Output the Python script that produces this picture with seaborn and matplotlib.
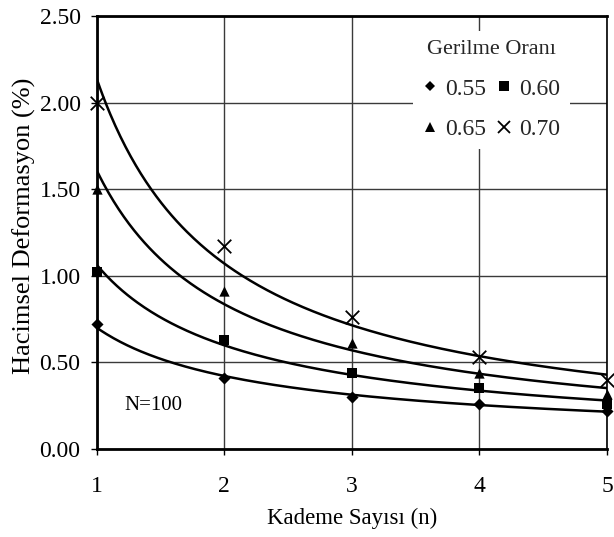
import numpy as np
import pandas as pd
import matplotlib
matplotlib.use("Agg")
import matplotlib.pyplot as plt
from matplotlib.lines import Line2D
import seaborn as sns

# Step count (n) and volumetric strain (%) for each stress ratio
kademe = [1, 2, 3, 4, 5]
oran_055 = [0.72, 0.41, 0.30, 0.26, 0.22]
oran_060 = [1.02, 0.63, 0.44, 0.35, 0.26]
oran_065 = [1.50, 0.91, 0.61, 0.44, 0.32]
oran_070 = [2.00, 1.17, 0.76, 0.53, 0.40]
oran_labels = ["0.55", "0.60", "0.65", "0.70"]
y_ticks = [0.00, 0.50, 1.00, 1.50, 2.00, 2.50]
x_ticks = [1, 2, 3, 4, 5]

series = [oran_055, oran_060, oran_065, oran_070]
marker_map = {"0.55": "D", "0.60": "s", "0.65": "^", "0.70": "x"}
size_map = {"0.55": 38, "0.60": 55, "0.65": 55, "0.70": 95}

df = pd.DataFrame({
    "n": np.tile(kademe, len(series)),
    "def": np.concatenate(series),
    "oran": np.repeat(oran_labels, len(kademe)),
})

# Power-law trendlines y = a * n^b fitted in log-log space
n_fine = np.linspace(1, 5, 300)
fit_rows = []
for lab, vals in zip(oran_labels, series):
    b, ln_a = np.polyfit(np.log(kademe), np.log(vals), 1)
    fit_rows.append(pd.DataFrame({"n": n_fine, "def": np.exp(ln_a) * n_fine ** b, "oran": lab}))
fit_df = pd.concat(fit_rows, ignore_index=True)

sns.set_theme(style="white")
plt.rcParams["font.family"] = ["Liberation Serif", "DejaVu Serif"]

fig = plt.figure(figsize=(6.14, 5.37), dpi=100)
ax = fig.add_axes([0.1572, 0.1639, 0.8314, 0.8063])

sns.lineplot(data=fit_df, x="n", y="def", units="oran", estimator=None,
             color="black", linewidth=1.8, ax=ax, legend=False, zorder=3)

for lab in oran_labels:
    sub = df[df["oran"] == lab]
    sns.scatterplot(data=sub, x="n", y="def", marker=marker_map[lab],
                    s=size_map[lab], color="black",
                    linewidth=1.3 if lab == "0.70" else 0,
                    ax=ax, legend=False, zorder=4, clip_on=False)

ax.set_xlim(1, 5)
ax.set_ylim(0, 2.5)
ax.set_xticks(x_ticks)
ax.set_yticks(y_ticks)
ax.set_xticklabels([str(v) for v in x_ticks])
ax.set_yticklabels([f"{v:.2f}" for v in y_ticks])
ax.grid(True, color="#3a3a3a", linewidth=1.0)
ax.set_axisbelow(True)

for side in ["left", "bottom", "top"]:
    ax.spines[side].set_color("black")
    ax.spines[side].set_linewidth(2.0)
ax.spines["right"].set_color("black")
ax.spines["right"].set_linewidth(1.2)
for sp in ax.spines.values():
    sp.set_zorder(5)

ax.tick_params(axis="both", direction="out", length=4.5, width=1.0, color="black",
               labelsize=17, labelcolor="black")
ax.tick_params(axis="y", pad=7, left=True)
ax.tick_params(axis="x", pad=15, bottom=True)

ax.set_xlabel("Kademe Sayısı (n)", fontsize=16.5, color="black")
ax.xaxis.set_label_coords(0.5, -0.135)
ax.set_ylabel("Hacimsel Deformasyon (%)", fontsize=19, color="black")
ax.yaxis.set_label_coords(-0.118, 0.515)

ax.text(1.22, 0.25, "N=100", fontsize=15, color="black", va="center", ha="left")

# Legend: two rows of two entries
handles = []
for lab in ["0.55", "0.65", "0.60", "0.70"]:
    m = marker_map[lab]
    ms = {"D": 5, "s": 6.5, "^": 6.5, "x": 9}[m]
    handles.append(Line2D([], [], linestyle="none", marker=m, color="black",
                          markersize=ms, markeredgewidth=1.3 if m == "x" else 0,
                          label=lab))
leg = ax.legend(handles=handles, ncol=2, title="Gerilme Oranı",
                loc="upper center", bbox_to_anchor=(0.774, 0.966),
                fontsize=17, title_fontsize=16, frameon=True, fancybox=False,
                edgecolor="white", facecolor="white", framealpha=1.0,
                handlelength=0.6, handletextpad=0.35, columnspacing=0.45,
                labelspacing=0.8, borderpad=0.4, borderaxespad=0)
leg.get_frame().set_linewidth(0)
leg.set_zorder(6)

fig.savefig("out.png", dpi=100)
